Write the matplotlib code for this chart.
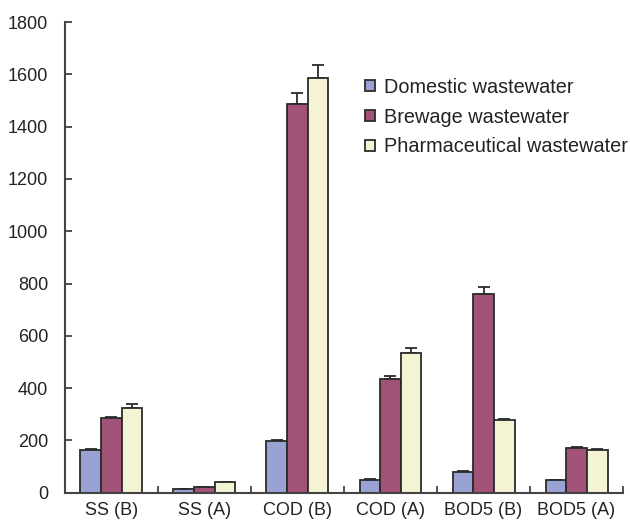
import matplotlib
matplotlib.use("Agg")
import matplotlib.pyplot as plt
import numpy as np

categories = ["SS (B)", "SS (A)", "COD (B)", "COD (A)", "BOD5 (B)", "BOD5 (A)"]
series = ["Domestic wastewater", "Brewage wastewater", "Pharmaceutical wastewater"]
domestic = [163, 13, 197, 48, 80, 48]
domestic_err = [6, 2, 5, 6, 2, 2]
brewage = [284, 21, 1485, 434, 760, 170]
brewage_err = [6, 2, 42, 12, 28, 5]
pharma = [325, 40, 1586, 535, 278, 163]
pharma_err = [15, 2, 48, 20, 5, 5]

colors = ["#99a3d3", "#a05277", "#f4f3d4"]

plt.rcParams["font.family"] = ["Liberation Sans", "DejaVu Sans"]

fig = plt.figure(figsize=(6.3, 5.2), dpi=100)
ax = fig.add_axes([0.103, 0.0525, 0.886, 0.905])

x = np.arange(len(categories))
w = 0.222
for i, (vals, errs) in enumerate([(domestic, domestic_err), (brewage, brewage_err), (pharma, pharma_err)]):
    ax.bar(x + (i - 1) * w, vals, w, color=colors[i], edgecolor="#2b2b2b", linewidth=1.3,
           label=series[i], zorder=2,
           yerr=[np.zeros(len(errs)), errs],
           error_kw=dict(ecolor="#2b2b2b", elinewidth=1.3, capsize=4.5, capthick=1.3, zorder=1))

ax.set_xlim(-0.5, 5.5)
ax.set_ylim(0, 1800)
ax.set_yticks(range(0, 1801, 200))
ax.set_xticks(x)
ax.set_xticklabels(categories)
ax.set_xticks(np.arange(0.5, 5.6, 1), minor=True)
ax.tick_params(axis="x", which="major", length=0, pad=7, labelsize=13, colors="#222222")
ax.tick_params(axis="x", which="minor", direction="in", length=5, width=1.3, color="#444444")
ax.tick_params(axis="y", direction="in", length=5, width=1.3, pad=12, labelsize=13,
               colors="#222222", color="#444444")
ax.spines["top"].set_visible(False)
ax.spines["right"].set_visible(False)
for s in ["left", "bottom"]:
    ax.spines[s].set_linewidth(1.5)
    ax.spines[s].set_color("#444444")

leg = ax.legend(loc="upper left", bbox_to_anchor=(0.538, 0.882), frameon=False,
                fontsize=14.3, handlelength=0.5, handleheight=0.5, handletextpad=0.45,
                labelspacing=0.55, borderaxespad=0, borderpad=0)
for t in leg.get_texts():
    t.set_color("#222222")

fig.savefig("out.png", dpi=100)
